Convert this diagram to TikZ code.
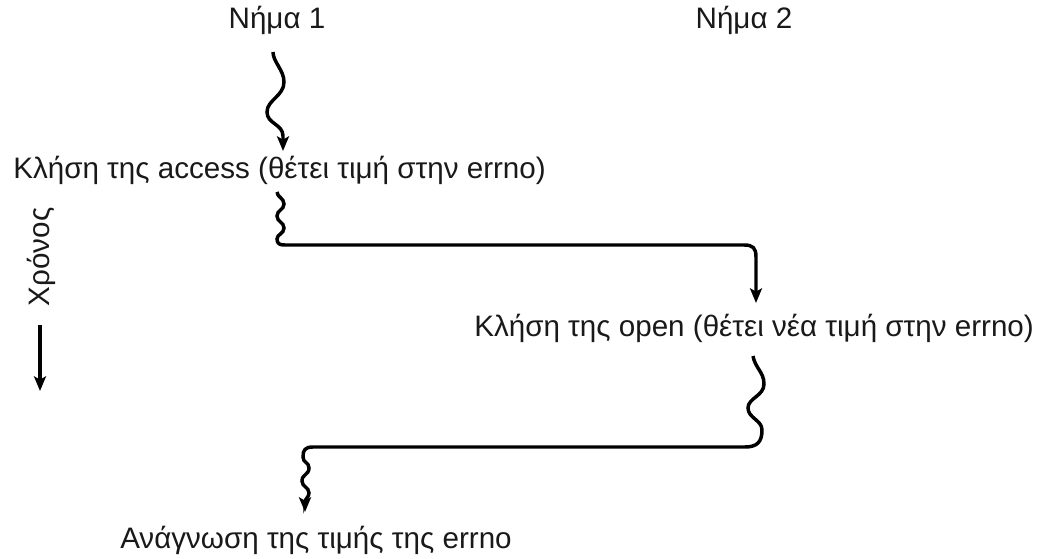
\documentclass[tikz,border=0pt]{standalone}
\usepackage{fontspec}
\setmainfont{Liberation Sans}
\usetikzlibrary{arrows.meta}
\begin{document}
\begin{tikzpicture}[x=0.75pt,y=-0.75pt,
  lbl/.style={inner sep=0pt,text=black!90,font=\fontsize{22.2}{26}\selectfont},
  tip/.style={-{Stealth[length=11pt,width=9pt,inset=2.5pt]}},
  flow/.style={line width=2.6pt,tip}]
\useasboundingbox (0,0) rectangle (1039,559);
\node[lbl,anchor=base] (t1) at (277,29) {Νήμα 1};
\node[lbl,anchor=base] (t2) at (744,29) {Νήμα 2};
\node[lbl,anchor=base west] (acc) at (13,179) {Κλήση της access (θέτει τιμή στην errno)};
\node[lbl,anchor=base west] (opn) at (474,337) {Κλήση της open (θέτει νέα τιμή στην errno)};
\node[lbl,anchor=base west] (rd) at (120,548) {Ανάγνωση της τιμής της errno};
\node[lbl,rotate=90] (time) at (41,257) {Χρόνος};
\coordinate (ta) at (40,325);
\coordinate (tb) at (40,391);
\draw[line width=2.4pt,tip] (ta) -- (tb);
% thread 1 start
\coordinate (w1s) at (273,52);
\coordinate (w1e) at (283,151);
\draw[flow] (w1s) .. controls (273,62) and (284,70) .. (284,82)
  .. controls (284,96) and (267,100) .. (267,112)
  .. controls (267,124) and (283,124) .. (283,136) -- (w1e);
% access -> open
\coordinate (w2s) at (277,192);
\coordinate (w2e) at (756,303);
\draw[flow] (w2s) .. controls (277,197) and (284,198) .. (284,204)
  .. controls (284,210) and (277,210) .. (277,216)
  .. controls (277,222) and (284,222) .. (284,228)
  .. controls (284,234) and (277,234) .. (277,239)
  .. controls (277,244) and (280,245) .. (285,245)
  -- (744,245) .. controls (753,245) and (756,248) .. (756,257) -- (w2e);
% open -> read
\coordinate (w3s) at (753,356);
\coordinate (w3e) at (305,512);
\draw[flow] (w3s) .. controls (755,368) and (764,372) .. (764,384)
  .. controls (764,396) and (748,398) .. (748,408)
  .. controls (748,418) and (762,420) .. (762,430)
  .. controls (762,442) and (757,447) .. (745,447)
  -- (313,447) .. controls (305,447) and (303,450) .. (303,457)
  .. controls (303,463) and (309,462) .. (309,468)
  .. controls (309,475) and (302,474) .. (302,481)
  .. controls (302,487) and (309,487) .. (309,493)
  .. controls (309,497) and (305,499) .. (305,502) -- (w3e);
\end{tikzpicture}
\end{document}
